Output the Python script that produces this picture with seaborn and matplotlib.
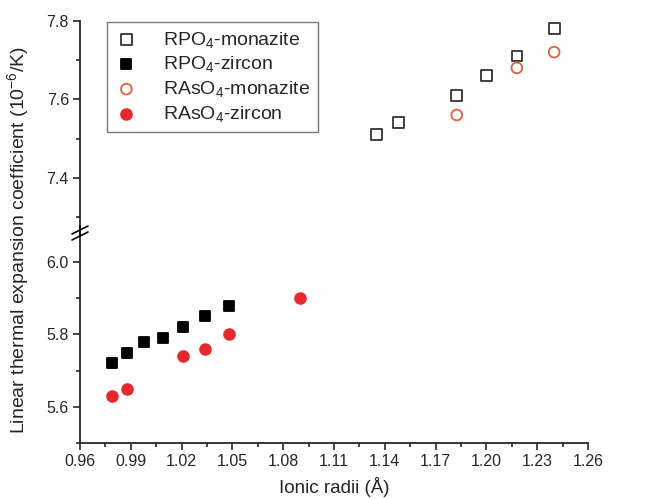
import seaborn as sns
import matplotlib.pyplot as plt
import matplotlib.lines as mlines
from matplotlib.ticker import MultipleLocator

# data
x_po4_mon = [1.135, 1.148, 1.1825, 1.200, 1.218, 1.240]
y_po4_mon = [7.51, 7.54, 7.61, 7.66, 7.71, 7.78]
x_po4_zir = [0.979, 0.988, 0.998, 1.009, 1.021, 1.034, 1.048]
y_po4_zir = [5.72, 5.75, 5.78, 5.79, 5.82, 5.85, 5.88]
x_as_mon = [1.1825, 1.218, 1.240]
y_as_mon = [7.56, 7.68, 7.72]
x_as_zir = [0.979, 0.988, 1.021, 1.034, 1.048, 1.090]
y_as_zir = [5.63, 5.65, 5.74, 5.76, 5.80, 5.90]

sns.set_style("ticks")
plt.rcParams['font.family'] = ['Liberation Sans', 'DejaVu Sans']
plt.rcParams['mathtext.fontset'] = 'custom'
plt.rcParams['mathtext.rm'] = 'Liberation Sans'
plt.rcParams['mathtext.it'] = 'Liberation Sans'

W, H = 652, 499
fig = plt.figure(figsize=(W / 100, H / 100), dpi=100)
L, R = 80 / W, 588 / W
ax_top = fig.add_axes([L, 1 - 227 / H, R - L, (227 - 20.7) / H])
ax_bot = fig.add_axes([L, 1 - 443 / H, R - L, (443 - 235) / H])

series = [
    ("RPO$_4$-monazite", x_po4_mon, y_po4_mon, "s", "none", "#333333"),
    ("RPO$_4$-zircon", x_po4_zir, y_po4_zir, "s", "black", "black"),
    ("RAsO$_4$-monazite", x_as_mon, y_as_mon, "o", "none", "#e5603f"),
    ("RAsO$_4$-zircon", x_as_zir, y_as_zir, "o", "#e8282c", "#e8282c"),
]

for ax in (ax_top, ax_bot):
    for name, xs, ys, mk, fc, ec in series:
        sns.scatterplot(x=xs, y=ys, ax=ax, marker=mk, s=60,
                        facecolor=fc, edgecolor=ec, linewidth=1.3,
                        label=name if ax is ax_top else None,
                        clip_on=True, zorder=3)
    ax.set_xlim(0.96, 1.26)
    ax.spines['top'].set_visible(False)
    ax.spines['right'].set_visible(False)
    ax.yaxis.set_minor_locator(MultipleLocator(0.1))
    ax.tick_params(labelsize=11.5, length=5, width=1.2, direction='out', pad=3)
    ax.tick_params(which='minor', length=3, width=1.2)
    for s in ax.spines.values():
        s.set_linewidth(1.3)

ax_top.set_ylim(7.275, 7.8)
ax_top.set_yticks([7.4, 7.6, 7.8])
ax_top.spines['bottom'].set_visible(False)
ax_top.tick_params(axis='x', which='both', bottom=False, labelbottom=False)

ax_bot.set_ylim(5.5, 6.075)
ax_bot.set_yticks([5.6, 5.8, 6.0])
ax_bot.set_xticks([0.96 + 0.03 * i for i in range(11)])
ax_bot.xaxis.set_minor_locator(MultipleLocator(0.015))
ax_bot.set_xticklabels(["%.2f" % (0.96 + 0.03 * i) for i in range(11)])
ax_bot.set_xlabel("Ionic radii (Å)", fontsize=13.5, labelpad=6)

fig.text(0.027, (1 - 240 / H), "Linear thermal expansion coefficient (10$^{-6}$/K)",
         rotation=90, va='center', ha='center', fontsize=14)

# axis break marks on the left spine
def fx(px):
    return px / W

def fy(py):
    return 1 - py / H

fig.add_artist(mlines.Line2D([fx(80), fx(80)], [fy(226), fy(236)], color='black', lw=1.3))
for dy in (0, 6):
    fig.add_artist(mlines.Line2D([fx(72), fx(88)], [fy(234 + dy), fy(226 + dy)],
                                 color='black', lw=1.2))

leg = ax_top.legend(loc='upper left', bbox_to_anchor=(0.053, 0.995), fontsize=14,
                    frameon=True, fancybox=False, edgecolor='#555555',
                    borderaxespad=0, handletextpad=1.3, labelspacing=0.25,
                    borderpad=0.4, handlelength=1.2)
leg.get_frame().set_linewidth(1.0)

fig.savefig("out.png", dpi=100)
